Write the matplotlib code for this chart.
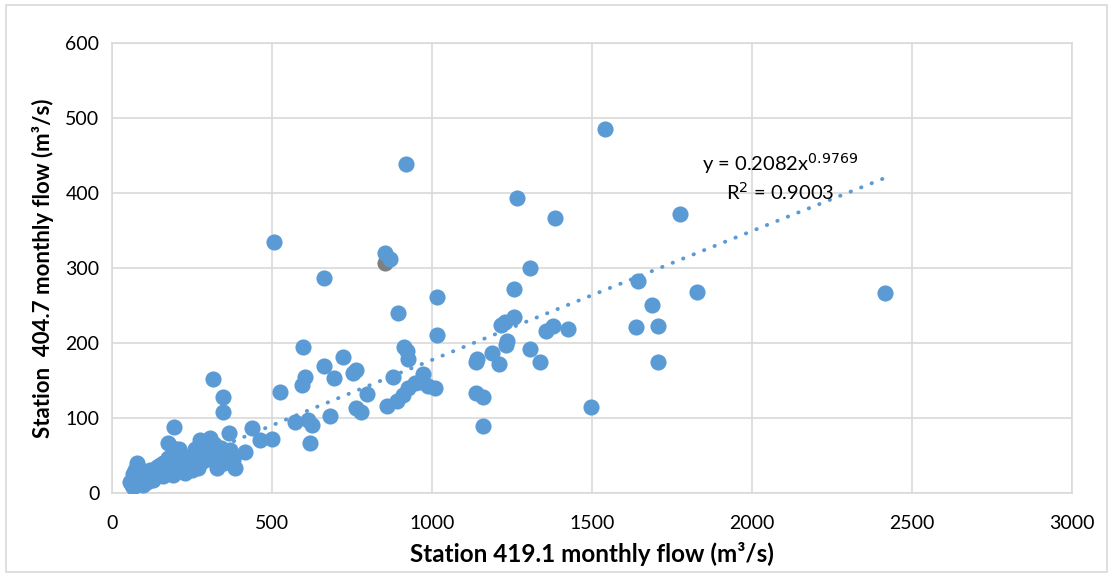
import numpy as np
from matplotlib import pyplot as plt
from matplotlib.patches import Rectangle

# station 419.1 (x) vs station 404.7 (y), monthly flow m3/s
flow_419 = [1541, 919, 1266, 1384, 1775, 506, 853, 869,
            662, 1306, 1257, 1016, 1645, 1827, 2416, 1686, 893,
            1256, 1228, 1215, 1379, 1356, 1426, 1636, 1707,
            1016, 1233, 1230, 598, 912, 923, 926, 1306, 1186, 721, 1208, 1137, 1140, 1337, 1707,
            662, 762, 754, 603, 593, 694, 877, 317,
            973, 962, 947, 988, 1009, 926, 910, 890, 859,
            525, 796, 1137, 1158, 348, 762, 777, 1497, 348, 681,
            572, 613, 624, 1158, 194, 437, 367, 462, 499, 619, 416, 384,
            176, 176, 202, 223, 265, 285, 317, 332, 327, 270, 77, 56, 67, 98, 129, 160, 192, 228,
            88, 119, 150, 244, 285, 369, 379, 275, 306, 190, 210, 150, 140, 120, 105, 90, 75, 70,
            62, 80, 110, 130, 165, 180, 200, 220, 240, 255, 300, 310, 340, 350, 290, 260, 230,
            160, 140, 100, 85, 65, 72, 95, 115, 185, 210, 250, 320, 360]
flow_404 = [485, 439, 393, 367, 372, 335, 320, 312,
            287, 300, 272, 261, 283, 268, 267, 251, 240,
            235, 228, 224, 223, 216, 218, 221, 222,
            211, 202, 197, 194, 194, 189, 179, 192, 186, 181, 172, 175, 178, 174, 174,
            169, 164, 160, 154, 144, 153, 155, 152,
            158, 148, 146, 142, 140, 140, 131, 122, 116,
            134, 132, 133, 128, 128, 113, 108, 114, 108, 103,
            95, 97, 91, 89, 88, 86, 80, 70, 72, 66, 55, 33,
            66, 46, 53, 33, 51, 48, 57, 48, 33, 33, 40, 15, 8, 11, 17, 22, 24, 26,
            24, 31, 37, 40, 42, 57, 44, 71, 73, 60, 40, 30, 35, 25, 20, 30, 12, 20,
            10, 15, 14, 28, 28, 35, 30, 45, 48, 38, 55, 45, 60, 40, 62, 58, 38,
            40, 22, 28, 18, 25, 30, 12, 18, 42, 58, 30, 65, 52]
grey_pt = [853, 306]

# power trendline from Excel
coef_a, coef_b = 0.2082, 0.9769
fit_text = 'y = 0.2082x$^{0.9769}$\nR$^2$ = 0.9003'

blue = '#5B9BD5'
plt.rcParams['font.family'] = ['Lato', 'DejaVu Sans']

fig = plt.figure(figsize=(11.13, 5.77), dpi=100)
ax = fig.add_axes([0.1006, 0.1456, 0.8626, 0.7799])

ax.scatter([grey_pt[0]], [grey_pt[1]], s=135, c='#7F7F7F', zorder=2, linewidths=0)
ax.scatter(flow_419, flow_404, s=135, c=blue, zorder=3, linewidths=0)

xs = np.linspace(min(flow_419), max(flow_419), 200)
ax.plot(xs, coef_a * xs ** coef_b, color=blue, lw=2.8, linestyle=(0, (0.1, 2.8)),
        dash_capstyle='round', zorder=4)
ax.text(2087, 421, fit_text, ha='center', va='center', fontsize=14.5, linespacing=1.25, zorder=5)

ax.set_xlim(0, 3000)
ax.set_ylim(0, 600)
ax.set_xticks(range(0, 3001, 500))
ax.set_yticks(range(0, 601, 100))
ax.grid(True, color='#D9D9D9', lw=1.2, zorder=0)
ax.set_axisbelow(True)
for s in ax.spines.values():
    s.set_color('#D9D9D9')
    s.set_linewidth(1.2)
ax.tick_params(axis='x', length=0, labelsize=14, pad=16)
ax.tick_params(axis='y', length=0, labelsize=14, pad=9)
ax.set_xlabel('Station 419.1 monthly flow (m³/s)', fontsize=17.5, fontweight='bold', labelpad=7)
ax.set_ylabel('Station  404.7 monthly flow (m³/s)', fontsize=16, fontweight='bold', labelpad=8)

fig.patches.append(Rectangle((0.005, 0.008), 0.99, 0.984, transform=fig.transFigure,
                             fill=False, edgecolor='#D9D9D9', lw=1.2))

plt.savefig('out.png')
